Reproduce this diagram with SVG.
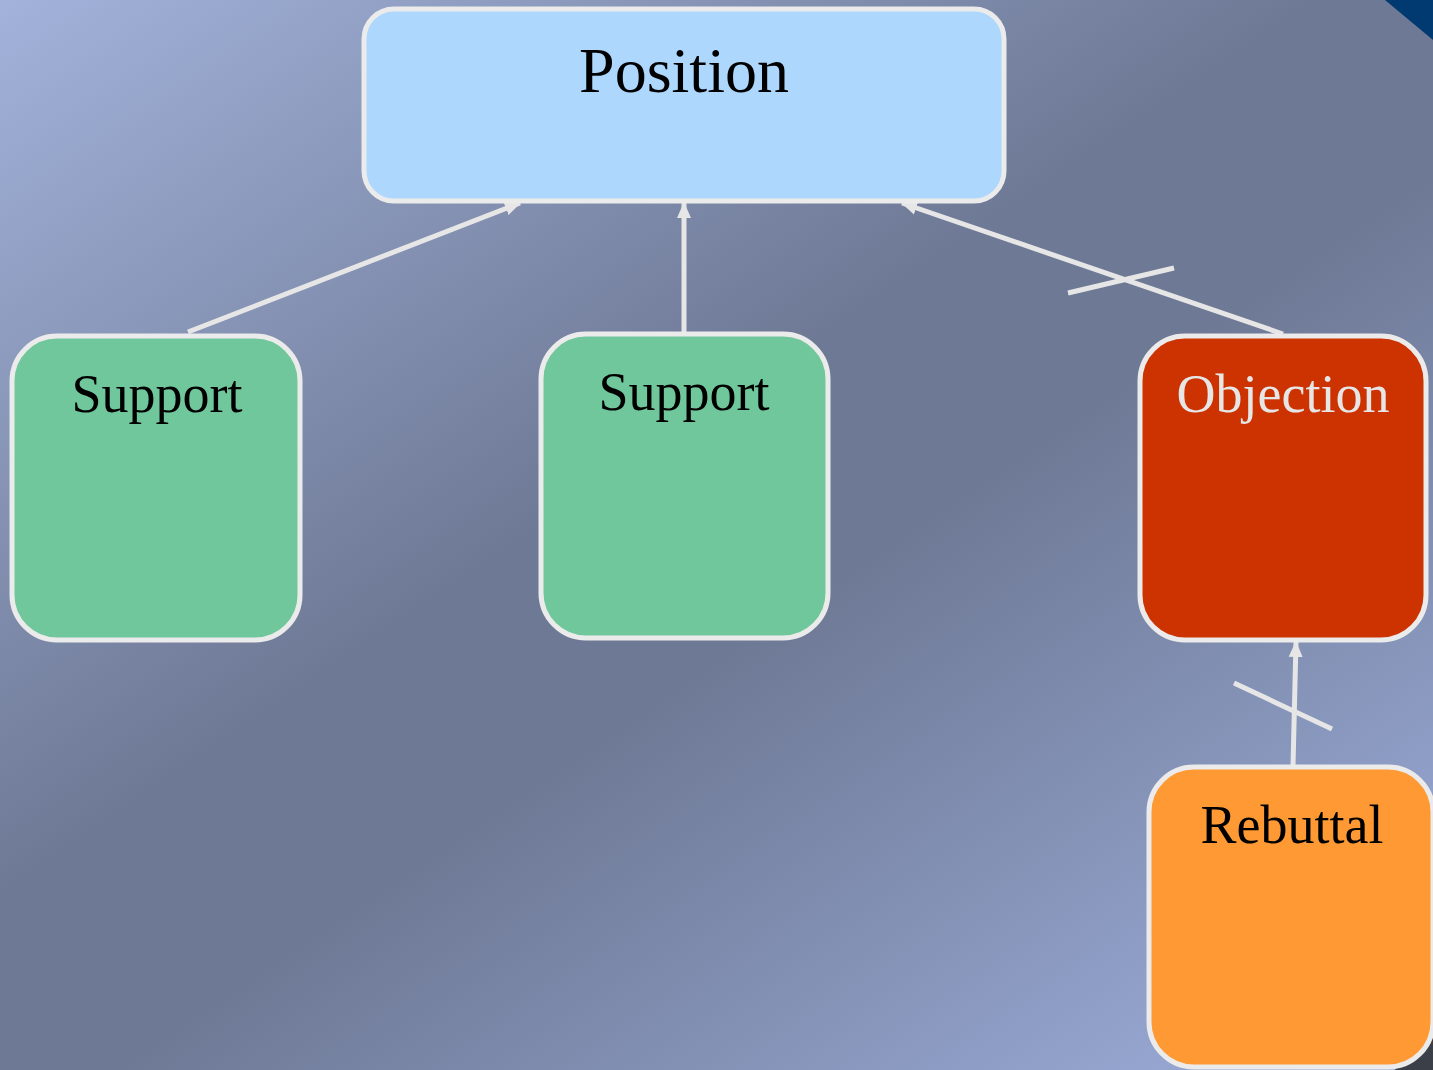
<svg xmlns="http://www.w3.org/2000/svg" width="1433" height="1070" viewBox="0 0 1433 1070">
<defs>
<linearGradient id="bg" gradientUnits="userSpaceOnUse" x1="0" y1="0" x2="949" y2="1398">
<stop offset="0" stop-color="#a2b2da"/>
<stop offset="0.44" stop-color="#6e7995"/>
<stop offset="0.56" stop-color="#6e7995"/>
<stop offset="0.9" stop-color="#94a4ce"/>
<stop offset="1" stop-color="#9aaad4"/>
</linearGradient>
<marker id="ah" viewBox="0 0 16 16" refX="15" refY="8" markerWidth="16" markerHeight="16" orient="auto" markerUnits="userSpaceOnUse">
<path d="M0,1 L16,8 L0,15 z" fill="#e6e6e6"/>
</marker>
</defs>
<style>
.node{stroke:#ebebeb;stroke-width:5}
.lbl{font-family:"Liberation Serif","Times New Roman",serif;text-anchor:middle}
.edge{stroke:#e6e6e6;stroke-width:5;fill:none}
</style>
<rect width="1433" height="1070" fill="url(#bg)"/>
<polygon points="1385,0 1433,0 1433,40" fill="#003a70"/>
<polygon points="1433,1015 1433,1070 1395,1070" fill="#3a3f48"/>
<g id="connectors">
<line class="edge" x1="188" y1="332" x2="520" y2="203" marker-end="url(#ah)"/>
<line class="edge" x1="684" y1="332" x2="684" y2="203" marker-end="url(#ah)"/>
<line class="edge" x1="1283" y1="334" x2="902" y2="203" marker-end="url(#ah)"/>
<line class="edge" x1="1068" y1="293" x2="1174" y2="268"/>
<line class="edge" x1="1293" y1="766" x2="1296" y2="642" marker-end="url(#ah)"/>
<line class="edge" x1="1234" y1="683" x2="1332" y2="729"/>
</g>
<g id="position">
<rect class="node" x="364" y="9" width="640" height="192" rx="30" fill="#add7fd"/>
<text class="lbl" x="684" y="92" font-size="64" fill="#000">Position</text>
</g>
<g id="support1">
<rect class="node" x="12" y="336" width="288" height="304" rx="45" fill="#70c79c"/>
<text class="lbl" x="157" y="412" font-size="54" fill="#000">Support</text>
</g>
<g id="support2">
<rect class="node" x="541" y="334" width="287" height="304" rx="45" fill="#70c79c"/>
<text class="lbl" x="684" y="410" font-size="54" fill="#000">Support</text>
</g>
<g id="objection">
<rect class="node" x="1140" y="336" width="286" height="304" rx="45" fill="#cc3300"/>
<text class="lbl" x="1283" y="412" font-size="54" fill="#e6e6e6">Objection</text>
</g>
<g id="rebuttal">
<rect class="node" x="1149" y="767" width="284" height="300" rx="45" fill="#ff9933"/>
<text class="lbl" x="1292" y="843" font-size="54" fill="#000">Rebuttal</text>
</g>
</svg>
